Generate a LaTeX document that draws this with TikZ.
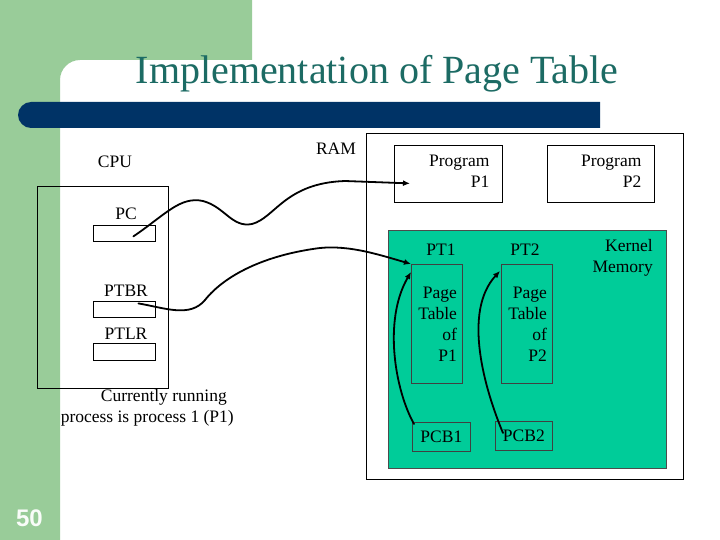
\documentclass[tikz,border=0pt]{standalone}
\usepackage{fontspec}
\setmainfont{Liberation Serif}
\newfontfamily\numfont{Liberation Sans}
\usepackage{tikz}
\usetikzlibrary{arrows.meta,calc}
\definecolor{SlideGreen}{HTML}{99CC99}
\definecolor{SlideNavy}{HTML}{003366}
\definecolor{TitleTeal}{HTML}{1C6B64}
\definecolor{KernelGreen}{HTML}{00CC99}
\newcommand{\lblsize}{\fontsize{17.5}{21}\selectfont}

\begin{document}
\begin{tikzpicture}[x=1pt,y=-1pt,>=Latex,
    regbox/.style={draw=black, line width=0.8pt, inner sep=0pt, anchor=north west},
    lbl/.style={font=\lblsize, inner sep=0pt},
    progbox/.style={regbox, minimum height=57pt, inner xsep=13pt, text depth=26pt, align=right, font=\lblsize},
    tablebox/.style={draw=black!75, line width=0.8pt, anchor=north west, inner xsep=5.5pt, text width=40pt, align=right, font=\lblsize},
    wire/.style={line width=1.8pt, line cap=round},
    ptr/.style={wire, -{Latex[length=7pt,width=6pt]}}]
        \useasboundingbox (0,0) rectangle (720,540);
        % slide background
        \fill[white] (0,0) rectangle (720,540);
        \fill[SlideGreen] (0,0) -- (252,0) -- (252,60) -- (80,60) .. controls (69,60) and (60,69) .. (60,80) -- (60,540) -- (0,540) -- cycle;
        \fill[SlideNavy] (600,102) -- (31,102) .. controls (24,102) and (18,108) .. (18,115) .. controls (18,122) and (24,128) .. (31,128) -- (600,128) -- cycle;
        \node[text=TitleTeal, font=\fontsize{40}{44}\selectfont, inner sep=0pt, anchor=base] (title) at (377,84) {Implementation of Page Table};
        \node[text=white!94!SlideGreen, font=\numfont\bfseries\fontsize{24}{26}\selectfont, inner sep=0pt] (slideno) at (29.5,518) {50};
        % CPU side
        \node[lbl] (cpulbl) at (115,162) {CPU};
        \node[regbox, minimum width=131pt, minimum height=202pt] (cpu) at (37,186) {};
        \node[lbl] (pclbl) at (126,214) {PC};
        \node[regbox, minimum width=62pt, minimum height=16pt] (pc) at (93,225) {};
        \node[lbl] (ptbrlbl) at (126,291) {PTBR};
        \node[regbox, minimum width=62pt, minimum height=16pt] (ptbr) at (93,301) {};
        \node[lbl] (ptlrlbl) at (126,334) {PTLR};
        \node[regbox, minimum width=62pt, minimum height=17pt] (ptlr) at (93,343) {};
        \node[lbl, align=right, anchor=north east] (running) at (234,389) {Currently running\hspace*{7pt}\\process is process 1 (P1)};
        % RAM side
        \node[lbl] (ramlbl) at (336,149) {RAM};
        \node[regbox, minimum width=317pt, minimum height=346pt] (ram) at (366,133) {};
        \node[progbox, minimum width=108pt, text width=82pt] (prog1) at (394,145) {Program\\P1};
        \node[progbox, minimum width=107pt, text width=81pt] (prog2) at (547,145) {Program\\P2};
        \node[regbox, draw=black!70, fill=KernelGreen, minimum width=278pt, minimum height=238pt] (kernel) at (388,230) {};
        \node[lbl, align=right, anchor=north east] (kernlbl) at (653,239) {Kernel\\Memory};
        \node[lbl] (pt1lbl) at (441,250) {PT1};
        \node[lbl] (pt2lbl) at (525,250) {PT2};
        \node[tablebox, minimum width=51pt, minimum height=119pt] (pt1) at (411,264) {Page\\Table\\of\\P1};
        \node[tablebox, minimum width=51pt, minimum height=119pt] (pt2) at (501,264) {Page\\Table\\of\\P2};
        \node[regbox, draw=black!75, minimum width=58pt, minimum height=29pt, font=\lblsize] (pcb1) at (412,422) {PCB1};
        \node[regbox, draw=black!75, minimum width=57pt, minimum height=29pt, font=\lblsize] (pcb2) at (495,421) {PCB2};
        % pointers
        \draw[ptr] ($(pc.center)+(9,3)$) .. controls (165,215) and (180,196) .. (203,201) .. controls (225,207) and (232,228) .. (252,224) .. controls (275,218) and (285,183) .. (345,181) -- ($(prog1.west)+(16,9.5)$);
        \draw[ptr] ($(ptbr.center)+(14,-6)$) .. controls (165,308) and (190,318) .. (205,300) .. controls (225,275) and (265,255) .. (320,248) .. controls (350,245) and (380,255) .. (pt1.north west);
        \draw[ptr] ($(pcb1.north west)+(2,2)$) .. controls (395,390) and (383,320) .. ($(pt1.north west)+(0,8)$);
        \draw[ptr] ($(pcb2.north west)+(8,12)$) .. controls (485,390) and (462,312) .. ($(pt2.north west)+(-1,7)$);
      \end{tikzpicture}
\end{document}
